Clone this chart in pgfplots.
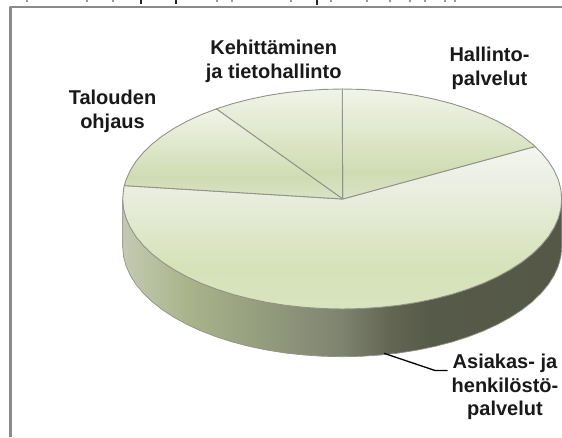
\documentclass[border=0pt]{standalone}
\usepackage{fontspec}
\setmainfont{Liberation Sans}
\usepackage{pgfplots}
\pgfplotsset{compat=1.18}
\definecolor{frameC}{HTML}{8A8A8A}
\definecolor{rimC}{HTML}{929288}
\definecolor{ua}{HTML}{D9E3C7}
\definecolor{ub}{HTML}{CFDCB2}
\definecolor{uc}{HTML}{F1F4E9}
\definecolor{ba}{HTML}{D8E4BE}
\definecolor{bb}{HTML}{D6E2B9}
\definecolor{bc}{HTML}{E8EDDD}
\definecolor{bd}{HTML}{F3F5EF}
\definecolor{sa}{HTML}{C4CAB2}
\definecolor{sb}{HTML}{A9B48B}
\definecolor{sc}{HTML}{7F8470}
\definecolor{sd}{HTML}{626653}
\definecolor{se}{HTML}{565A48}
\definecolor{sf}{HTML}{555847}
\pgfdeclareverticalshading{upperslice}{100bp}{color(0bp)=(ua);color(25bp)=(ua);color(37bp)=(ub);color(75bp)=(uc);color(100bp)=(uc)}
\pgfdeclareverticalshading{bigslice}{100bp}{color(0bp)=(ba);color(25bp)=(ba);color(38bp)=(bb);color(60bp)=(bc);color(75bp)=(bd);color(100bp)=(bd)}
\pgfdeclarehorizontalshading{sidewall}{100bp}{color(0bp)=(sa);color(25bp)=(sa);color(32.3bp)=(sb);color(49.7bp)=(sc);color(55.4bp)=(sd);color(60bp)=(se);color(75bp)=(sf);color(100bp)=(sf)}
\begin{document}
\begin{tikzpicture}
\path[use as bounding box] (0,0) rectangle (562pt,437pt);
\begin{axis}[
  at={(0,0)},anchor=south west,
  width=562pt,height=437pt,scale only axis,
  xmin=0,xmax=562,ymin=0,ymax=437,y dir=reverse,
  hide axis,unbounded coords=jump,
  every axis plot/.append style={mark=none,line join=round},
]
% frame
\addplot[frameC,line width=2.4pt] coordinates {(10.5,437)(10.5,7.2)(562,7.2)};
% bottoms of a line cut off by the top edge of the picture
\addplot[black!40,line width=1.4pt] coordinates {(27,0)(27,1.5)(27,nan)(87,0)(87,1.5)(87,nan)(113,0)(113,1.5)(113,nan)(217,0)(217,1.5)(217,nan)(232,0)(232,1.5)(232,nan)(291,0)(291,1.5)(291,nan)(331,0)(331,1.5)(331,nan)(367,0)(367,1.5)(367,nan)(390,0)(390,1.5)(390,nan)(410,0)(410,1.5)(410,nan)(425,0)(425,1.5)(425,nan)(445,0)(445,1.5)(445,nan)(455,0)(455,1.5)};
\addplot[black!85,line width=1.4pt] coordinates {(141,0)(141,3.5)(141,nan)(176,0)(176,3.5)(176,nan)(317,0)(317,4.5)};
% side wall
\addplot[draw=rimC,line width=0.7pt,shading=sidewall] coordinates {
(122.7,199)(122.7,246.7)(123.5,256.3)(126,265.8)(130.2,275.2)(135.9,284.3)(143.3,293.2)(152.1,301.7)(162.4,309.8)(174.1,317.4)(187,324.5)(201.1,331)(216.3,336.8)(232.4,342)(249.4,346.4)(267.1,350.1)(285.4,353)(304.1,355)(323.1,356.3)(342.2,356.7)
(361.3,356.3)(380.3,355)(399,353)(417.3,350.1)(435,346.4)(452,342)(468.1,336.8)(483.3,331)(497.4,324.5)(510.3,317.4)(522,309.8)(532.3,301.7)(541.1,293.2)(548.5,284.3)(554.2,275.2)(558.4,265.8)(560.9,256.3)(561.7,246.7)(561.7,199)(122.7,199)};
% big slice
\addplot[draw=rimC,line width=0.9pt,shading=bigslice] coordinates {
(342.7,199)(124.3,185.6)(123.5,189.4)(122.7,199)(123.5,208.6)(126,218.1)(130.2,227.5)(135.9,236.6)(143.3,245.5)(152.1,254)(162.4,262.1)(174.1,269.7)(187,276.8)(201.1,283.3)(216.3,289.1)(232.4,294.3)(249.4,298.7)(267.1,302.4)(285.4,305.3)(304.1,307.3)(323.1,308.6)(342.2,309)
(361.3,308.6)(380.3,307.3)(399,305.3)(417.3,302.4)(435,298.7)(452,294.3)(468.1,289.1)(483.3,283.3)(497.4,276.8)(510.3,269.7)(522,262.1)(532.3,254)(541.1,245.5)(548.5,236.6)(554.2,227.5)(558.4,218.1)(560.9,208.6)(561.7,199)(560.9,189.4)(558.4,179.9)(554.2,170.5)(548.5,161.4)(541.1,152.5)(535.1,146.5)(342.7,199)};
% Hallinto-palvelut
\addplot[draw=rimC,line width=0.9pt,shading=upperslice] coordinates {
(342.7,199)(342.2,89)(361.3,89.4)(380.3,90.7)(399,92.7)(417.3,95.6)(435,99.3)(452,103.7)(468.1,108.9)(483.3,114.7)(497.4,121.2)(510.3,128.3)(522,135.9)(532.3,144)(535.1,146.5)(342.7,199)};
% Kehittaminen
\addplot[draw=rimC,line width=0.9pt,shading=upperslice] coordinates {
(342.7,199)(342.2,89)(323.1,89.4)(304.1,90.7)(285.4,92.7)(267.1,95.6)(249.4,99.3)(232.4,103.7)(216.3,108.9)(342.7,199)};
% Talouden ohjaus
\addplot[draw=rimC,line width=0.9pt,shading=upperslice] coordinates {
(342.7,199)(216.3,108.9)(201.1,114.7)(187,121.2)(174.1,128.3)(162.4,135.9)(152.1,144)(143.3,152.5)(135.9,161.4)(130.2,170.5)(126,179.9)(124.3,185.6)(342.7,199)};
% leader
\addplot[black,line width=1.3pt] coordinates {(384,353.3)(435,370.5)(447.5,370.5)};
% labels
\tikzset{lab/.style={align=center,font=\bfseries\fontsize{20}{23.7}\selectfont,inner sep=0pt,text=black!90}}
\node[lab] at (axis cs:273.7,61) {Kehittäminen\\ja tietohallinto};
\node[lab] at (axis cs:489.5,68.5) {Hallinto-\\palvelut};
\node[lab] at (axis cs:112.5,111.5) {Talouden\\ohjaus};
\node[lab] at (axis cs:505,387) {Asiakas- ja\\henkilöstö-\\palvelut};
\end{axis}
\end{tikzpicture}
\end{document}
